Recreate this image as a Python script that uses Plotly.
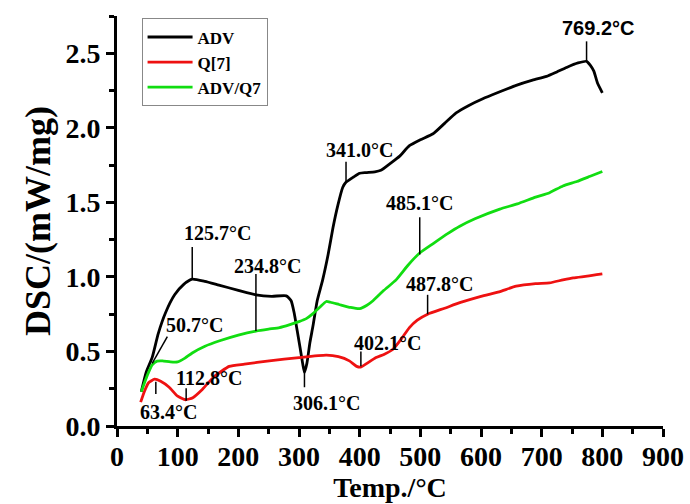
import plotly.graph_objects as go

# ---- data ----
adv_T = [40, 48, 58, 68, 80, 95, 110, 124, 145, 168, 200, 229, 255, 279, 287, 292, 297, 302, 306, 309,
         313, 318, 323, 330, 339, 348, 356, 364, 372, 377, 390, 400, 410, 425, 435, 450, 466, 482, 500,
         521, 540, 559, 580, 603, 630, 658, 685, 708, 725, 741, 760, 774, 780, 786, 792, 800]
adv_dsc = [0.23, 0.36, 0.46, 0.62, 0.76, 0.88, 0.95, 0.985, 0.97, 0.945, 0.91, 0.88, 0.87, 0.873, 0.84,
           0.76, 0.64, 0.52, 0.42, 0.36, 0.42, 0.56, 0.67, 0.84, 0.98, 1.15, 1.33, 1.48, 1.60, 1.633,
           1.67, 1.695, 1.70, 1.705, 1.715, 1.76, 1.81, 1.88, 1.92, 1.96, 2.03, 2.10, 2.15, 2.195, 2.24,
           2.285, 2.32, 2.345, 2.375, 2.405, 2.435, 2.446, 2.42, 2.38, 2.30, 2.235]

q7_T = [39, 45, 52, 62, 72, 86, 100, 113, 125, 141, 160, 185, 210, 251, 300, 345, 365, 383, 395, 402,
        412, 427, 440, 455, 468, 482, 495, 512, 540, 565, 600, 630, 658, 690, 713, 735, 752, 775, 800]
q7_dsc = [0.16, 0.23, 0.29, 0.314, 0.30, 0.26, 0.20, 0.176, 0.19, 0.247, 0.33, 0.40, 0.415, 0.437,
          0.459, 0.475, 0.465, 0.437, 0.40, 0.395, 0.42, 0.459, 0.48, 0.515, 0.58, 0.66, 0.71, 0.75,
          0.79, 0.827, 0.87, 0.90, 0.938, 0.955, 0.96, 0.98, 0.994, 1.005, 1.02]

mix_T = [40, 50, 58, 66, 75, 88, 100, 112, 124, 145, 168, 200, 229, 250, 268, 285, 300, 312, 322, 335,
         345, 352, 366, 385, 400, 412, 422, 440, 460, 480, 499, 520, 545, 565, 590, 631, 660, 690, 713,
         735, 758, 780, 800]
mix_dsc = [0.23, 0.34, 0.41, 0.435, 0.437, 0.43, 0.43, 0.455, 0.49, 0.535, 0.57, 0.61, 0.637, 0.65,
           0.66, 0.68, 0.70, 0.72, 0.75, 0.80, 0.835, 0.83, 0.815, 0.795, 0.787, 0.81, 0.84, 0.91, 0.98,
           1.08, 1.16, 1.22, 1.29, 1.34, 1.39, 1.455, 1.49, 1.535, 1.565, 1.61, 1.64, 1.675, 1.707]

series_names = ["ADV", "Q[7]", "ADV/Q7"]
series_colors = ["#000000", "#ee1111", "#11dd11"]

# peak labels: text, text position, leader line (x0, y0) -> (x1, y1)
lab_text = ["769.2°C", "341.0°C", "485.1°C", "487.8°C", "402.1°C", "306.1°C",
            "234.8°C", "125.7°C", "50.7°C", "112.8°C", "63.4°C"]
lab_x = [793, 400, 499, 532, 446, 345, 248, 165, 127, 152, 85]
lab_y = [2.667, 1.85, 1.495, 0.95, 0.56, 0.155, 1.07, 1.292, 0.677, 0.32, 0.096]
lead_x0 = [774, 377.5, 499, 512, 402, 309, 229, 124, 58, 114, 64]
lead_y0 = [2.446, 1.633, 1.15, 0.75, 0.40, 0.37, 0.637, 0.987, 0.42, 0.17, 0.297]
lead_x1 = [774, 377.5, 499, 512, 402, 309, 229, 124, 83, 114, 64]
lead_y1 = [2.58, 1.773, 1.40, 0.88, 0.50, 0.26, 1.02, 1.20, 0.60, 0.253, 0.215]

x_ticks = [0, 100, 200, 300, 400, 500, 600, 700, 800, 900]
y_ticks = [0.0, 0.5, 1.0, 1.5, 2.0, 2.5]
y_tick_text = ["0.0", "0.5", "1.0", "1.5", "2.0", "2.5"]

SERIF = "Liberation Serif"

fig = go.Figure()
for T, d, name, col in zip([adv_T, q7_T, mix_T], [adv_dsc, q7_dsc, mix_dsc], series_names, series_colors):
    fig.add_trace(go.Scatter(x=T, y=d, mode="lines", name=name,
                             line=dict(color=col, width=2.8, shape="spline", smoothing=0.5)))

for x0, y0, x1, y1 in zip(lead_x0, lead_y0, lead_x1, lead_y1):
    fig.add_shape(type="line", xref="x", yref="y", x0=x0, y0=y0, x1=x1, y1=y1,
                  line=dict(color="black", width=1.5))

for i, (t, x, y) in enumerate(zip(lab_text, lab_x, lab_y)):
    fam = "Liberation Sans" if i == 0 else SERIF
    fig.add_annotation(x=x, y=y, xref="x", yref="y", text=t, showarrow=False,
                       font=dict(family=fam, size=20, color="black", weight="bold"))

axis_common = dict(showline=True, linecolor="black", linewidth=3, ticks="outside", ticklen=8,
                   tickwidth=3, tickcolor="black", showgrid=False, zeroline=False, mirror=False,
                   tickfont=dict(family=SERIF, size=28, color="black", weight="bold"))

fig.update_xaxes(range=[0, 900], tickvals=x_ticks, **axis_common, ticklabelstandoff=-5,
                 minor=dict(dtick=50, ticks="outside", ticklen=5, tickwidth=3, tickcolor="black"),
                 title=dict(text="Temp./°C", standoff=0,
                            font=dict(family=SERIF, size=28, color="black", weight="bold")))
fig.update_yaxes(range=[0, 2.75], tickvals=y_ticks, ticktext=y_tick_text, **axis_common,
                 minor=dict(dtick=0.25, ticks="outside", ticklen=5, tickwidth=3, tickcolor="black"),
                 title=dict(text="DSC/(mW/mg)", standoff=4,
                            font=dict(family=SERIF, size=36, color="black", weight="bold")))

fig.update_layout(
    width=690, height=504,
    margin=dict(l=117, r=27, t=16, b=78, autoexpand=False),
    paper_bgcolor="white", plot_bgcolor="white",
    legend=dict(x=0.045, y=0.994, xanchor="left", yanchor="top",
                bgcolor="white", bordercolor="#888888", borderwidth=1,
                itemwidth=45, tracegroupgap=0,
                font=dict(family=SERIF, size=17, color="black", weight="bold")),
    showlegend=True,
)

fig.write_html("out.html")
